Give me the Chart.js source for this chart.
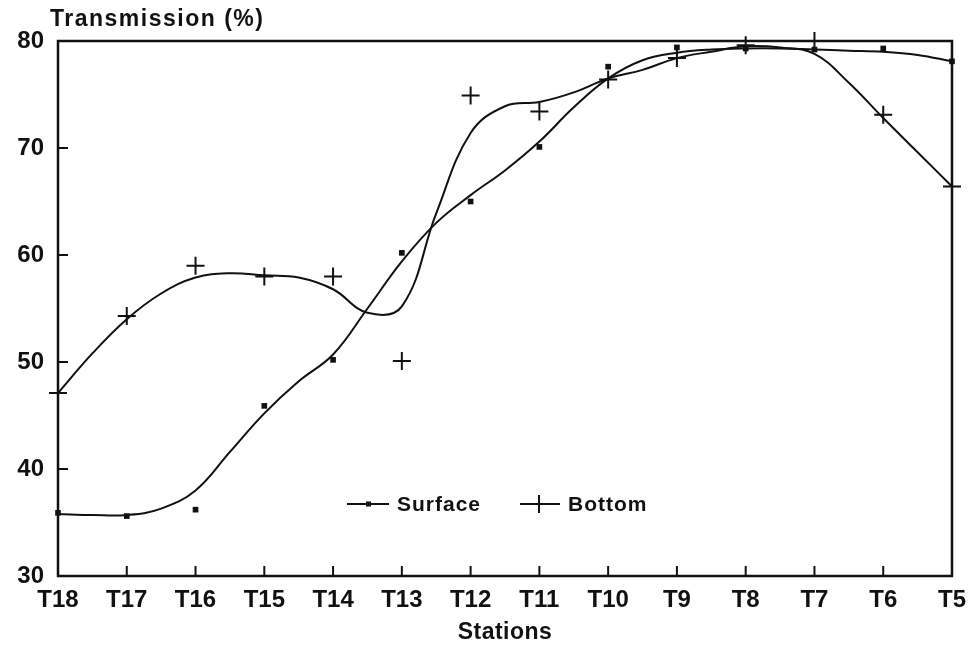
<!DOCTYPE html>
<html lang="en">
<head>
    <meta charset="UTF-8">
    <title>Transmission</title>
    <script src="https://cdn.jsdelivr.net/npm/chart.js@4.4.1/dist/chart.umd.min.js"></script>
    <style>
        html, body {margin: 0;padding: 0;background: #fff;}
        canvas {display: block;}
    </style>
</head>
<body>
<canvas id="chart" width="976" height="649"></canvas>
<script>
    // stations along the transect, left to right
    const stations = ['T18', 'T17', 'T16', 'T15', 'T14', 'T13', 'T12', 'T11', 'T10', 'T9', 'T8', 'T7', 'T6', 'T5'];

    // measured transmission (%) at each station
    const surfaceValues = [35.9, 35.6, 36.2, 45.9, 50.2, 60.2, 65.0, 70.1, 77.6, 79.4, 79.3, 79.2, 79.3, 78.1];
    const bottomValues = [47.1, 54.3, 59.0, 58.0, 58.0, 50.1, 74.9, 73.4, 76.4, 78.4, 79.6, 80.0, 73.1, 66.4];

    // smoothed curves, read every half station
    const curvePositions = [0, 0.5, 1, 1.5, 2, 2.5, 3, 3.5, 4, 4.5, 5, 5.5, 6, 6.5, 7, 7.5, 8, 8.5, 9, 9.5, 10, 10.5, 11, 11.5, 12, 12.5, 13];
    const surfaceCurve = [35.8, 35.7, 35.7, 36.3, 38.0, 41.6, 45.2, 48.2, 50.7, 55.0, 59.4, 63.0, 65.6, 67.9, 70.6, 73.8, 76.5, 78.2, 78.9, 79.2, 79.3, 79.3, 79.2, 79.1, 79.0, 78.7, 78.1];
    const bottomCurve = [47.1, 50.8, 54.0, 56.4, 57.9, 58.3, 58.1, 57.9, 56.8, 54.6, 55.2, 63.9, 71.4, 73.9, 74.3, 75.2, 76.5, 77.3, 78.4, 79.0, 79.5, 79.4, 78.8, 76.1, 72.8, 69.6, 66.4];

    const yTicks = [30, 40, 50, 60, 70, 80];

    const ink = '#111';
    const boldFont = '"Liberation Sans", Arial, sans-serif';

    const pts = (xs, ys) => ys.map((v, i) => ({x: xs[i], y: v}));
    const idx = stations.map((s, i) => i);

    // frame, inward ticks, titles and the legend
    const decorations = {
        id: 'decorations',
        afterDraw(chart) {
            const {ctx, chartArea: a, scales: {x, y}} = chart;
            ctx.save();
            ctx.strokeStyle = ink;
            ctx.lineWidth = 2.5;
            ctx.strokeRect(a.left, a.top, a.right - a.left, a.bottom - a.top);

            ctx.lineWidth = 2;
            ctx.beginPath();
            yTicks.slice(1, -1).forEach(v => {
                const py = y.getPixelForValue(v);
                ctx.moveTo(a.left, py);
                ctx.lineTo(a.left + 10, py);
            });
            idx.slice(1, -1).forEach(i => {
                const px = x.getPixelForValue(i);
                ctx.moveTo(px, a.bottom);
                ctx.lineTo(px, a.bottom - 10);
            });
            ctx.stroke();

            ctx.fillStyle = ink;
            ctx.font = 'bold 23px ' + boldFont;
            ctx.textBaseline = 'middle';
            ctx.textAlign = 'left';
            ctx.letterSpacing = '1.5px';
            ctx.fillText('Transmission (%)', 50, 20);
            ctx.textAlign = 'center';
            ctx.letterSpacing = '0.5px';
            ctx.fillText('Stations', (a.left + a.right) / 2, 633);

            // legend
            const ly = 504;
            ctx.lineWidth = 2;
            ctx.beginPath();
            ctx.moveTo(347, ly);
            ctx.lineTo(389, ly);
            ctx.moveTo(520, ly);
            ctx.lineTo(560, ly);
            ctx.moveTo(539, ly - 9);
            ctx.lineTo(539, ly + 9);
            ctx.stroke();
            ctx.fillRect(366, ly - 2.5, 5, 5);
            ctx.font = 'bold 21px ' + boldFont;
            ctx.textAlign = 'left';
            ctx.letterSpacing = '1px';
            ctx.fillText('Surface', 397, ly + 1);
            ctx.fillText('Bottom', 568, ly + 1);
            ctx.restore();
        }
    };

    new Chart(document.getElementById('chart'), {
        type: 'scatter',
        data: {
            datasets: [
                {
                    label: 'Surface fit',
                    type: 'line',
                    data: pts(curvePositions, surfaceCurve),
                    borderColor: ink,
                    borderWidth: 2,
                    pointRadius: 0,
                    tension: 0.4,
                    fill: false
                },
                {
                    label: 'Bottom fit',
                    type: 'line',
                    data: pts(curvePositions, bottomCurve),
                    borderColor: ink,
                    borderWidth: 2,
                    pointRadius: 0,
                    tension: 0.4,
                    fill: false
                },
                {
                    label: 'Surface',
                    data: pts(idx, surfaceValues),
                    pointStyle: 'rect',
                    pointRadius: 4,
                    backgroundColor: ink,
                    borderColor: ink,
                    borderWidth: 0,
                    clip: false
                },
                {
                    label: 'Bottom',
                    data: pts(idx, bottomValues),
                    pointStyle: 'cross',
                    pointRadius: 9,
                    borderColor: ink,
                    borderWidth: 2,
                    clip: false
                }
            ]
        },
        options: {
            responsive: false,
            animation: false,
            layout: {padding: {top: 41, right: 23, left: 0, bottom: 0}},
            plugins: {
                legend: {display: false},
                tooltip: {enabled: false}
            },
            scales: {
                x: {
                    type: 'linear',
                    min: 0,
                    max: stations.length - 1,
                    afterFit: s => { s.height = 73; },
                    afterBuildTicks: s => { s.ticks = idx.map(i => ({value: i})); },
                    grid: {display: false, drawTicks: false, tickLength: 0},
                    border: {display: false},
                    ticks: {
                        padding: 10,
                        maxRotation: 0,
                        autoSkip: false,
                        color: ink,
                        font: {family: boldFont, size: 24, weight: 'bold'},
                        callback: v => stations[v]
                    }
                },
                y: {
                    min: 30,
                    max: 80,
                    afterFit: s => { s.width = 58; },
                    afterBuildTicks: s => { s.ticks = yTicks.map(v => ({value: v})); },
                    grid: {display: false, drawTicks: false, tickLength: 0},
                    border: {display: false},
                    ticks: {
                        padding: 14,
                        color: ink,
                        font: {family: boldFont, size: 24, weight: 'bold'}
                    }
                }
            }
        },
        plugins: [decorations]
    });
</script>
</body>
</html>
